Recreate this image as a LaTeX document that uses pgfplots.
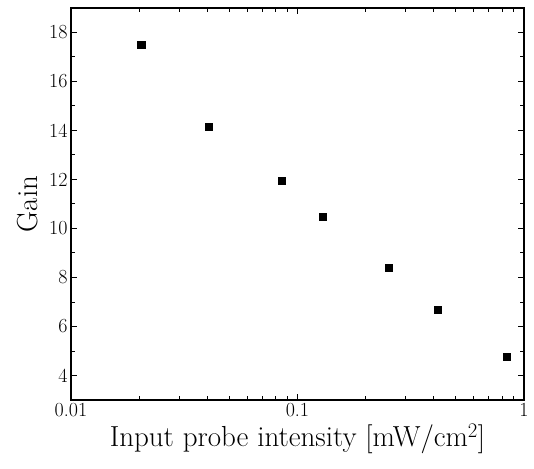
\documentclass[border=0pt]{standalone}
\usepackage{pgfplots}
\pgfplotsset{compat=1.18}
\begin{document}
\begin{tikzpicture}
\useasboundingbox (-71pt,-68pt) rectangle (463pt,400pt);
\begin{axis}[
  at={(0,0)}, anchor=south west,
  scale only axis, width=453pt, height=392pt,
  xmode=log, xmin=0.01, xmax=1,
  ymin=3, ymax=19,
  ytick={4,6,...,18}, minor ytick={5,7,...,17},
  xtick={0.01,0.1,1}, xticklabels={0.01,0.1,1},
  tick align=inside, major tick length=6pt, minor tick length=4pt,
  axis line style={line width=1.3pt}, tick style={line width=1pt, black},
  ticklabel style={font=\fontsize{20}{22}\selectfont},
  /pgf/number format/assume math mode=true,
  xlabel={Input probe intensity [mW/cm$^2$]},
  ylabel={Gain},
  label style={font=\fontsize{29}{32}\selectfont},
  xlabel style={yshift=0pt},
  ylabel style={yshift=4pt},
]
\addplot[only marks, mark=square*, mark size=3.6pt, black] coordinates {
(0.0204,17.51) (0.0407,14.16) (0.0855,11.96) (0.1297,10.49) (0.2535,8.41) (0.417,6.69) (0.841,4.78)
};
\end{axis}
\end{tikzpicture}
\end{document}
